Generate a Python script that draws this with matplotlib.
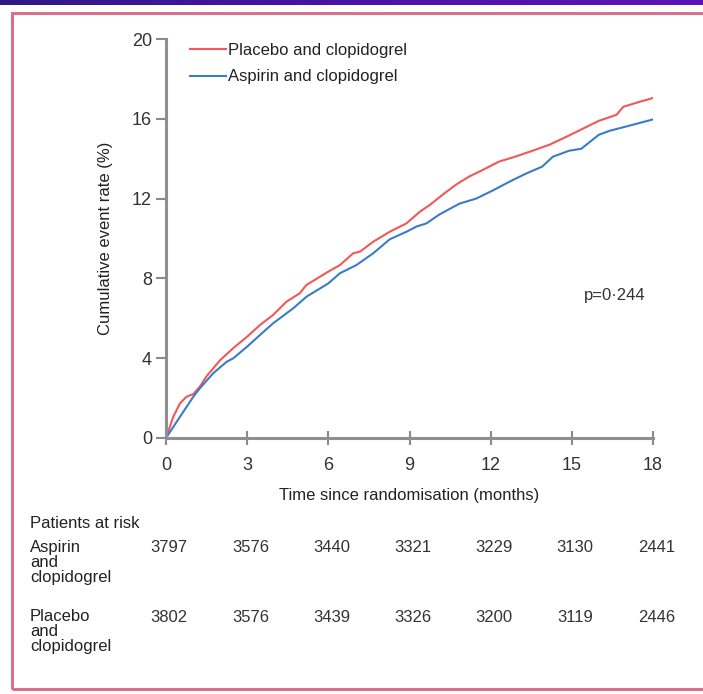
import numpy as np
import matplotlib
matplotlib.use("Agg")
import matplotlib.pyplot as plt
from matplotlib.patches import Rectangle
from matplotlib.transforms import blended_transform_factory

plt.rcParams['font.family'] = ['Liberation Sans Narrow', 'Liberation Sans', 'DejaVu Sans']

# Kaplan-Meier curves (months, cumulative %)
placebo_months = [0, 0.27, 0.52, 0.76, 1.01, 1.25, 1.5, 2.0, 2.48, 3.0, 3.47, 3.96,
                  4.45, 4.94, 5.19, 6.0, 6.43, 6.92, 7.17, 7.66, 8.27, 8.89, 9.38,
                  9.75, 10.23, 10.72, 11.2, 11.8, 12.3, 12.9, 13.55, 14.17, 14.8,
                  15.4, 16.0, 16.65, 16.9, 17.5, 17.9, 18.0]
placebo_rate = [0, 1.07, 1.74, 2.07, 2.2, 2.57, 3.1, 3.9, 4.5, 5.08, 5.66, 6.17,
                6.83, 7.25, 7.67, 8.34, 8.67, 9.26, 9.34, 9.84, 10.34, 10.76, 11.34,
                11.68, 12.2, 12.7, 13.1, 13.5, 13.85, 14.1, 14.4, 14.7, 15.1,
                15.5, 15.9, 16.2, 16.6, 16.85, 17.0, 17.05]

aspirin_months = [0, 0.52, 1.01, 1.25, 1.74, 2.24, 2.48, 3.0, 3.47, 3.96, 4.7, 5.19,
                  6.0, 6.43, 7.04, 7.66, 8.27, 8.89, 9.26, 9.63, 10.1, 10.85, 11.46,
                  12.07, 12.7, 13.3, 13.9, 14.3, 14.9, 15.35, 16.0, 16.4, 17.25, 18.0]
aspirin_rate = [0, 1.07, 2.07, 2.49, 3.24, 3.82, 3.99, 4.58, 5.16, 5.75, 6.5, 7.08,
                7.75, 8.26, 8.67, 9.26, 9.96, 10.34, 10.6, 10.76, 11.2, 11.75, 12.0,
                12.4, 12.85, 13.25, 13.6, 14.1, 14.4, 14.5, 15.2, 15.4, 15.7, 15.97]

x_ticks = [0, 3, 6, 9, 12, 15, 18]
y_ticks = [0, 4, 8, 12, 16, 20]

risk_labels = ["Aspirin\nand\nclopidogrel", "Placebo\nand\nclopidogrel"]
risk_aspirin = [3797, 3576, 3440, 3321, 3229, 3130, 2441]
risk_placebo = [3802, 3576, 3439, 3326, 3200, 3119, 2446]

W, H = 703, 694
fig = plt.figure(figsize=(W / 100, H / 100), dpi=100)

# purple band on top
band = fig.add_axes([0, 1 - 5 / H, 1, 5 / H])
grad = np.linspace(0, 1, 256).reshape(1, -1)
band.imshow(grad, aspect='auto', cmap=matplotlib.colors.LinearSegmentedColormap.from_list(
    'band', ['#2f1a86', '#4a12a8', '#5c14b8']))
band.axis('off')

# pink frame
fig.patches.append(Rectangle((12 / W, 1 - 689 / H), 1.0, (689 - 13) / H,
                             transform=fig.transFigure, fill=False,
                             edgecolor='#d9708f', linewidth=2.2, zorder=0))

ax = fig.add_axes([166 / W, 1 - 438 / H, (653 - 166) / W, (438 - 39) / H])
ax.plot(placebo_months, placebo_rate, color='#f0585a', lw=1.5, label='Placebo and clopidogrel')
ax.plot(aspirin_months, aspirin_rate, color='#3a7cc6', lw=1.5, label='Aspirin and clopidogrel')

ax.set_xlim(0, 18)
ax.set_ylim(0, 20)
ax.set_xticks(x_ticks)
ax.set_yticks(y_ticks)
for s in ['top', 'right']:
    ax.spines[s].set_visible(False)
for s in ['left', 'bottom']:
    ax.spines[s].set_color('#8f8f8f')
    ax.spines[s].set_linewidth(2.2)
ax.tick_params(axis='both', color='#8a8a8a', width=1.5, length=7, labelsize=13,
               labelcolor='#333333', pad=3)
ax.tick_params(axis='x', direction='inout', length=10, pad=9)

ax.set_xlabel('Time since randomisation (months)', fontsize=12, color='#222222', labelpad=10)
ax.set_ylabel('Cumulative event rate (%)', fontsize=12, color='#222222', labelpad=14)

leg = ax.legend(loc='upper left', bbox_to_anchor=(0.018, 1.028), frameon=False,
                fontsize=12, handlelength=2.2, handletextpad=0.1, labelspacing=0.7)
for t in leg.get_texts():
    t.set_color('#222222')

ax.text(0.984, 0.358, 'p=0·244', transform=ax.transAxes, ha='right', va='center',
        fontsize=12, color='#333333')

# patients at risk table
tr = blended_transform_factory(ax.transData, fig.transFigure)
fig.text(30 / W, 1 - 523 / H, 'Patients at risk', fontsize=12, color='#222222', va='center')
row_y = [548, 617]
for lab, counts, yy in zip(risk_labels, [risk_aspirin, risk_placebo], row_y):
    fig.text(30 / W, 1 - (yy - 8) / H, lab, fontsize=12, color='#222222', va='top',
             linespacing=1.0)
    for m, c in zip(x_ticks, counts):
        ax.text(m + 0.12, 1 - yy / H, str(c), transform=tr, ha='center', va='center',
                fontsize=12, color='#333333', clip_on=False)

fig.savefig('out.png', dpi=100)
